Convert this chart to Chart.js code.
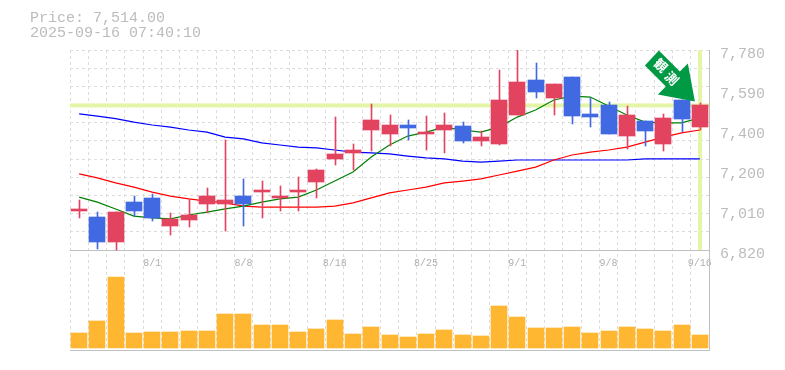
<!DOCTYPE html>
<html>
<head>
<meta charset="utf-8">
<script src="https://cdn.jsdelivr.net/npm/chart.js@4/dist/chart.umd.min.js"></script>
<style>
    body { margin: 0; background: #fff; }
    #wrap { position: relative; width: 785px; height: 370px; overflow: hidden; }
    #info { position: absolute; left: 30px; top: 11px; font: 15px/15px "Liberation Mono", monospace; color: #bcbcbc; white-space: pre; }
</style>
</head>
<body>
<div id="wrap">
    <canvas id="stockChart" width="785" height="370"></canvas>
    <div id="info">Price: 7,514.00
2025-09-16 07:40:10</div>
</div>
<script>
const dates = ['7/28', '7/29', '7/30', '7/31', '8/1', '8/4', '8/5', '8/6', '8/7', '8/8', '8/12', '8/13', '8/14', '8/15', '8/18', '8/19', '8/20', '8/21', '8/22', '8/25', '8/26', '8/27', '8/28', '8/29', '9/1', '9/2', '9/3', '9/4', '9/5', '9/8', '9/9', '9/10', '9/11', '9/12', '9/16'];
const dateLabels = ['8/1', '8/8', '8/18', '8/25', '9/1', '9/8', '9/16'];

const opens = [7007, 6978, 6858, 7050, 7070, 6935, 6964, 7041, 7041, 7079, 7098, 7070, 7098, 7146, 7257, 7286, 7396, 7377, 7420, 7377, 7396, 7415, 7343, 7329, 7468, 7636, 7550, 7650, 7473, 7516, 7367, 7439, 7329, 7540, 7410];
const closes = [7017, 6858, 7002, 7007, 6974, 6969, 6988, 7079, 7060, 7041, 7108, 7079, 7108, 7204, 7281, 7300, 7444, 7420, 7406, 7386, 7420, 7343, 7362, 7540, 7626, 7578, 7617, 7463, 7458, 7377, 7468, 7391, 7454, 7449, 7516];
const highs = [7060, 7002, 7002, 7081, 7089, 6998, 7065, 7118, 7348, 7161, 7151, 7127, 7170, 7209, 7458, 7329, 7521, 7468, 7444, 7463, 7478, 7434, 7391, 7684, 7780, 7718, 7617, 7650, 7550, 7530, 7511, 7439, 7473, 7540, 7526];
const lows = [6974, 6825, 6821, 6983, 6959, 6892, 6930, 6998, 6911, 6935, 6974, 7007, 7007, 7070, 7228, 7204, 7295, 7319, 7348, 7300, 7286, 7334, 7319, 7324, 7468, 7550, 7468, 7425, 7410, 7377, 7305, 7319, 7295, 7386, 7396];

const maShort = [7074, 7050, 7017, 6983, 6974, 6969, 6988, 7002, 7017, 7031, 7050, 7065, 7074, 7108, 7151, 7194, 7266, 7324, 7367, 7386, 7410, 7396, 7386, 7410, 7458, 7492, 7540, 7559, 7554, 7511, 7468, 7434, 7430, 7430, 7454];
const maMid = [7185, 7166, 7142, 7122, 7098, 7079, 7065, 7055, 7046, 7031, 7026, 7026, 7026, 7026, 7031, 7046, 7070, 7094, 7108, 7122, 7142, 7151, 7161, 7180, 7199, 7218, 7252, 7276, 7290, 7300, 7314, 7338, 7362, 7382, 7396];
const maLong = [7473, 7463, 7451, 7434, 7420, 7410, 7396, 7386, 7362, 7353, 7334, 7324, 7314, 7310, 7300, 7290, 7286, 7281, 7271, 7262, 7257, 7247, 7242, 7247, 7252, 7252, 7252, 7252, 7252, 7252, 7252, 7257, 7257, 7257, 7257];

const volumes = [150, 270, 710, 150, 160, 160, 170, 170, 340, 340, 230, 230, 160, 190, 280, 140, 210, 130, 110, 140, 180, 130, 120, 420, 310, 200, 200, 210, 150, 170, 210, 190, 170, 230, 130];

const priceTicks = [7780, 7588, 7396, 7204, 7012, 6820];
const priceTickLabels = ['7,780', '7,590', '7,400', '7,200', '7,010', '6,820'];
const gridPrices = [7780, 7692.7, 7605.5, 7518.2, 7430.9, 7343.6, 7256.4, 7169.1, 7081.8, 6994.5, 6907.3, 6820];
const lastPrice = 7514;

const upColor = '#e2445f';
const downColor = '#4169e1';
const bandColor = '#e4f5a8';
const frameColor = '#c0c0c0';
const gridColor = '#dcdcdc';
const candleColors = opens.map((o, i) => closes[i] >= o ? upColor : downColor);

// Chart.js leaves bars on fractional pixels, snap them so candles stay sharp
const crispBars = {
    id: 'crispBars',
    afterDatasetsUpdate(chart) {
        chart.data.datasets.forEach((ds, i) => {
            if (ds.type !== 'bar') return;
            chart.getDatasetMeta(i).data.forEach(el => {
                el.x = Math.round(el.x) + (ds.barThickness % 2 ? 0.5 : 0);
                el.y = Math.round(el.y);
                el.base = Math.round(el.base);
            });
        });
    }
};

// Last price line and last date line, behind the candles
const lastPriceBands = {
    id: 'lastPriceBands',
    beforeDatasetsDraw(chart) {
        const { ctx, chartArea, scales } = chart;
        const y = scales.y.getPixelForValue(lastPrice);
        const x = Math.round(scales.x.getPixelForValue(dates.length - 1));
        ctx.save();
        ctx.fillStyle = bandColor;
        ctx.fillRect(chartArea.left, y - 2, chartArea.right - chartArea.left, 4);
        ctx.fillRect(x - 2, chartArea.top, 4, scales.y.getPixelForValue(priceTicks[5]) - chartArea.top);
        ctx.restore();
    }
};

// Green arrow pointing at the last candle
const signalArrow = {
    id: 'signalArrow',
    afterDatasetsDraw(chart) {
        const { ctx, scales } = chart;
        const x = scales.x.getPixelForValue(dates.length - 1);
        const y = scales.y.getPixelForValue(lastPrice);
        const shape = [[-41, -55], [-55, -40], [-34, -19], [-42, -11], [-5, -4], [-12, -42], [-20, -34]];
        ctx.save();
        ctx.fillStyle = '#009944';
        ctx.beginPath();
        shape.forEach(([dx, dy], i) => i ? ctx.lineTo(x + dx, y + dy) : ctx.moveTo(x + dx, y + dy));
        ctx.closePath();
        ctx.fill();
        ctx.fillStyle = '#ffffff';
        ctx.font = 'bold 13px "Noto Sans CJK JP"';
        ctx.textAlign = 'center';
        ctx.textBaseline = 'middle';
        [['観', -39, -40], ['測', -28, -27]].forEach(([ch, dx, dy]) => {
            ctx.save();
            ctx.translate(x + dx, y + dy);
            ctx.rotate(Math.PI / 4);
            ctx.fillText(ch, 0, 0);
            ctx.restore();
        });
        ctx.restore();
    }
};

const ctx = document.getElementById('stockChart').getContext('2d');
const stockChart = new Chart(ctx, {
    data: {
        labels: dates,
        datasets: [{
            type: 'bar',
            label: 'Body',
            data: opens.map((o, i) => [o, closes[i]]),
            backgroundColor: candleColors,
            barThickness: 16,
            grouped: false,
            order: 1
        }, {
            type: 'bar',
            label: 'Wick',
            data: lows.map((l, i) => [l, highs[i]]),
            backgroundColor: candleColors,
            barThickness: 1,
            grouped: false,
            order: 2
        }, {
            type: 'line',
            label: 'MA short',
            data: maShort,
            borderColor: '#008000',
            borderWidth: 1.2,
            pointRadius: 0,
            order: 3
        }, {
            type: 'line',
            label: 'MA mid',
            data: maMid,
            borderColor: '#ff0000',
            borderWidth: 1.2,
            pointRadius: 0,
            order: 4
        }, {
            type: 'line',
            label: 'MA long',
            data: maLong,
            borderColor: '#0000ff',
            borderWidth: 1.2,
            pointRadius: 0,
            order: 5
        }, {
            type: 'bar',
            label: 'Volume',
            data: volumes,
            yAxisID: 'yVolume',
            backgroundColor: '#ffb732',
            barThickness: 16,
            grouped: false,
            order: 6
        }]
    },
    options: {
        responsive: false,
        animation: false,
        events: [],
        layout: { padding: { left: 70, top: 50, bottom: 20 } },
        plugins: { legend: { display: false }, tooltip: { enabled: false } },
        scales: {
            x: {
                position: { y: 6820 },
                offset: true,
                grid: { color: gridColor, offset: true, drawTicks: false },
                border: { color: frameColor, width: 1, dash: [3, 3] },
                ticks: {
                    autoSkip: false,
                    maxRotation: 0,
                    padding: 7,
                    color: '#b0b0b0',
                    font: { family: '"Liberation Mono"', size: 10 },
                    callback(value) {
                        const label = this.getLabelForValue(value);
                        return dateLabels.includes(label) ? label : '';
                    }
                }
            },
            xBottom: {
                type: 'category',
                position: 'bottom',
                grid: { display: false, drawTicks: false },
                border: { color: frameColor, width: 1 },
                ticks: { display: false }
            },
            // covers the whole plot height, the price pane is its upper 2/3
            y: {
                position: 'right',
                min: 6340,
                max: 7780,
                grid: { display: false, drawTicks: false },
                border: { color: frameColor, width: 1 },
                afterBuildTicks(scale) { scale.ticks = priceTicks.map(v => ({ value: v })); },
                afterFit(scale) { scale.width = 76; },
                ticks: {
                    autoSkip: false,
                    padding: 11,
                    labelOffset: 4,
                    color: '#bcbcbc',
                    font: { family: '"Liberation Mono"', size: 15 },
                    callback(value) { return priceTickLabels[priceTicks.indexOf(value)]; }
                }
            },
            yGrid: {
                position: 'right',
                min: 6340,
                max: 7780,
                grid: { color: gridColor, drawTicks: false },
                border: { display: false, dash: [3, 3] },
                afterBuildTicks(scale) { scale.ticks = gridPrices.map(v => ({ value: v })); },
                afterFit(scale) { scale.width = 0; },
                ticks: { display: false }
            },
            yVolume: {
                display: false,
                min: -20,
                max: 2980
            }
        }
    },
    plugins: [crispBars, lastPriceBands, signalArrow]
});
</script>
</body>
</html>
